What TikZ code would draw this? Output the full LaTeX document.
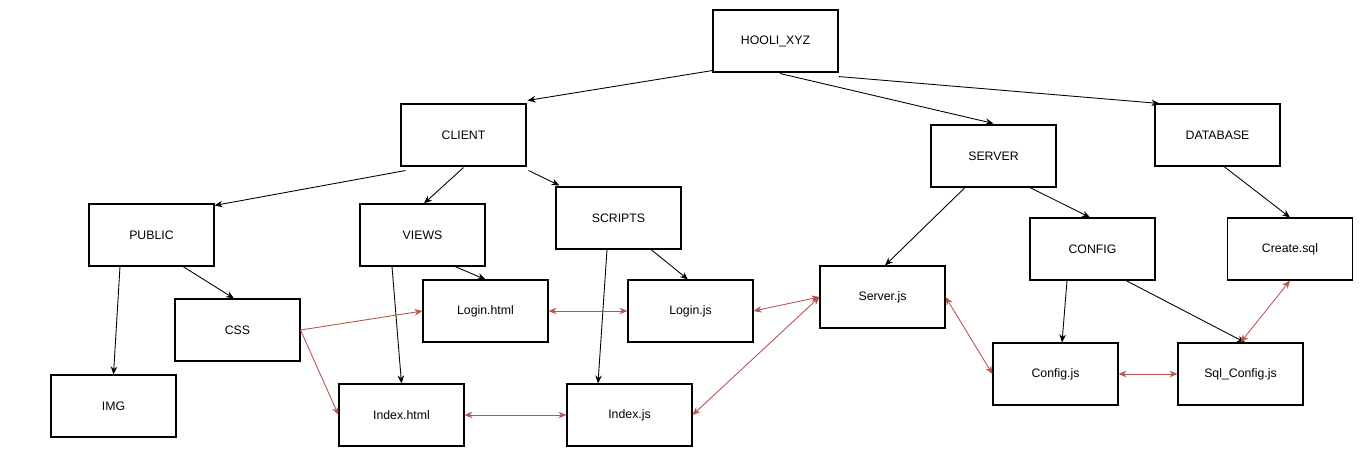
\documentclass[tikz,border=0pt]{standalone}
\usepackage{fontspec}
\setmainfont{Liberation Sans}
\usetikzlibrary{arrows.meta}
\definecolor{linkred}{RGB}{184,84,80}

\begin{document}
\begin{tikzpicture}[
    % Define styles
    folder/.style={
        rectangle,
        draw,
        line width=0.6pt,
        minimum width=2.5cm,
        minimum height=1.24cm,
        inner sep=0pt,
        font=\fontsize{7}{8}\selectfont
    },
    arrow/.style={
        -{Stealth[length=1.6mm, width=1.3mm]},
        line width=0.5pt
    },
    link/.style={
        {Stealth[length=1.6mm, width=1.3mm]}-{Stealth[length=1.6mm, width=1.3mm]},
        linkred,
        line width=0.5pt
    },
    onelink/.style={
        -{Stealth[length=1.6mm, width=1.3mm]},
        linkred,
        line width=0.5pt
    }
]

% Fix the page size
\useasboundingbox (0,0) rectangle (27.2,-9.32);

% Row heights
\def\rowa{-0.82}
\def\rowb{-2.70}
\def\rowc{-4.70}
\def\rowd{-6.22}
\def\rowe{-8.30}

% Root
\node[folder] (hooli) at (15.51,\rowa) {HOOLI\_XYZ};

% Top level folders
\node[folder] (client) at (9.27,\rowb) {CLIENT};
\node[folder] (server) at (19.87,-3.12) {SERVER};
\node[folder] (database) at (24.35,\rowb) {DATABASE};

% Client side
\node[folder] (public) at (3.03,\rowc) {PUBLIC};
\node[folder] (views) at (8.45,\rowc) {VIEWS};
\node[folder] (scripts) at (12.37,-4.36) {SCRIPTS};
\node[folder] (css) at (4.75,-6.60) {CSS};
\node[folder] (img) at (2.27,-8.12) {IMG};
\node[folder] (loginhtml) at (9.71,\rowd) {Login.html};
\node[folder] (loginjs) at (13.81,\rowd) {Login.js};
\node[folder] (indexhtml) at (8.03,\rowe) {Index.html};
\node[folder] (indexjs) at (12.59,\rowe) {Index.js};

% Server side
\node[folder] (serverjs) at (17.65,-5.94) {Server.js};
\node[folder] (config) at (21.85,-4.98) {CONFIG};
\node[folder] (configjs) at (21.11,-7.48) {Config.js};

% Database side
\node[folder] (createsql) at (25.80,-4.98) {Create.sql};
\node[folder] (sqlconfig) at (24.81,-7.48) {Sql\_Config.js};

% Folder tree
\draw[arrow] ([yshift=0.04cm]hooli.south west) -- ([xshift=0.02cm,yshift=0.06cm]client.north east);
\draw[arrow] ([xshift=0.09cm,yshift=-0.02cm]hooli.south) -- ([yshift=0.02cm]server.north);
\draw[arrow] ([yshift=-0.08cm]hooli.south east) -- ([xshift=0.1cm]database.north west);

\draw[arrow] ([xshift=0.1cm,yshift=-0.08cm]client.south west) -- ([yshift=-0.04cm]public.north east);
\draw[arrow] ([yshift=-0.02cm]client.south) -- ([xshift=0.03cm]views.north);
\draw[arrow] ([xshift=0.04cm,yshift=-0.08cm]client.south east) -- ([xshift=0.08cm,yshift=0.02cm]scripts.north west);

\draw[arrow] ([xshift=-0.63cm]public.south) -- (img.north);
\draw[arrow] ([xshift=0.63cm]public.south) -- ([xshift=-0.07cm]css.north);
\draw[arrow] ([xshift=0.65cm]views.south) -- (loginhtml.north);
\draw[arrow] ([xshift=-0.61cm]views.south) -- (indexhtml.north);
\draw[arrow] ([xshift=0.65cm]scripts.south) -- ([xshift=-0.05cm]loginjs.north);
\draw[arrow] ([xshift=-0.23cm]scripts.south) -- ([xshift=-0.63cm]indexjs.north);

\draw[arrow] ([xshift=-0.57cm]server.south) -- ([xshift=0.05cm]serverjs.north);
\draw[arrow] ([xshift=0.73cm]server.south) -- ([xshift=-0.05cm]config.north);
\draw[arrow] ([xshift=-0.51cm]config.south) -- ([xshift=0.13cm]configjs.north);
\draw[arrow] ([xshift=0.67cm]config.south) -- ([xshift=0.09cm]sqlconfig.north);
\draw[arrow] ([xshift=0.13cm]database.south) -- (createsql.north);

% File links
\draw[onelink] (css.east) -- (loginhtml.west);
\draw[onelink] (css.east) -- (indexhtml.west);
\draw[link] (loginhtml.east) -- (loginjs.west);
\draw[link] (indexhtml.east) -- (indexjs.west);
\draw[link] (loginjs.east) -- (serverjs.west);
\draw[link] (indexjs.east) -- (serverjs.west);
\draw[link] (serverjs.east) -- (configjs.west);
\draw[link] (configjs.east) -- (sqlconfig.west);
\draw[link] (sqlconfig.north) -- (createsql.south);

\end{tikzpicture}
\end{document}
